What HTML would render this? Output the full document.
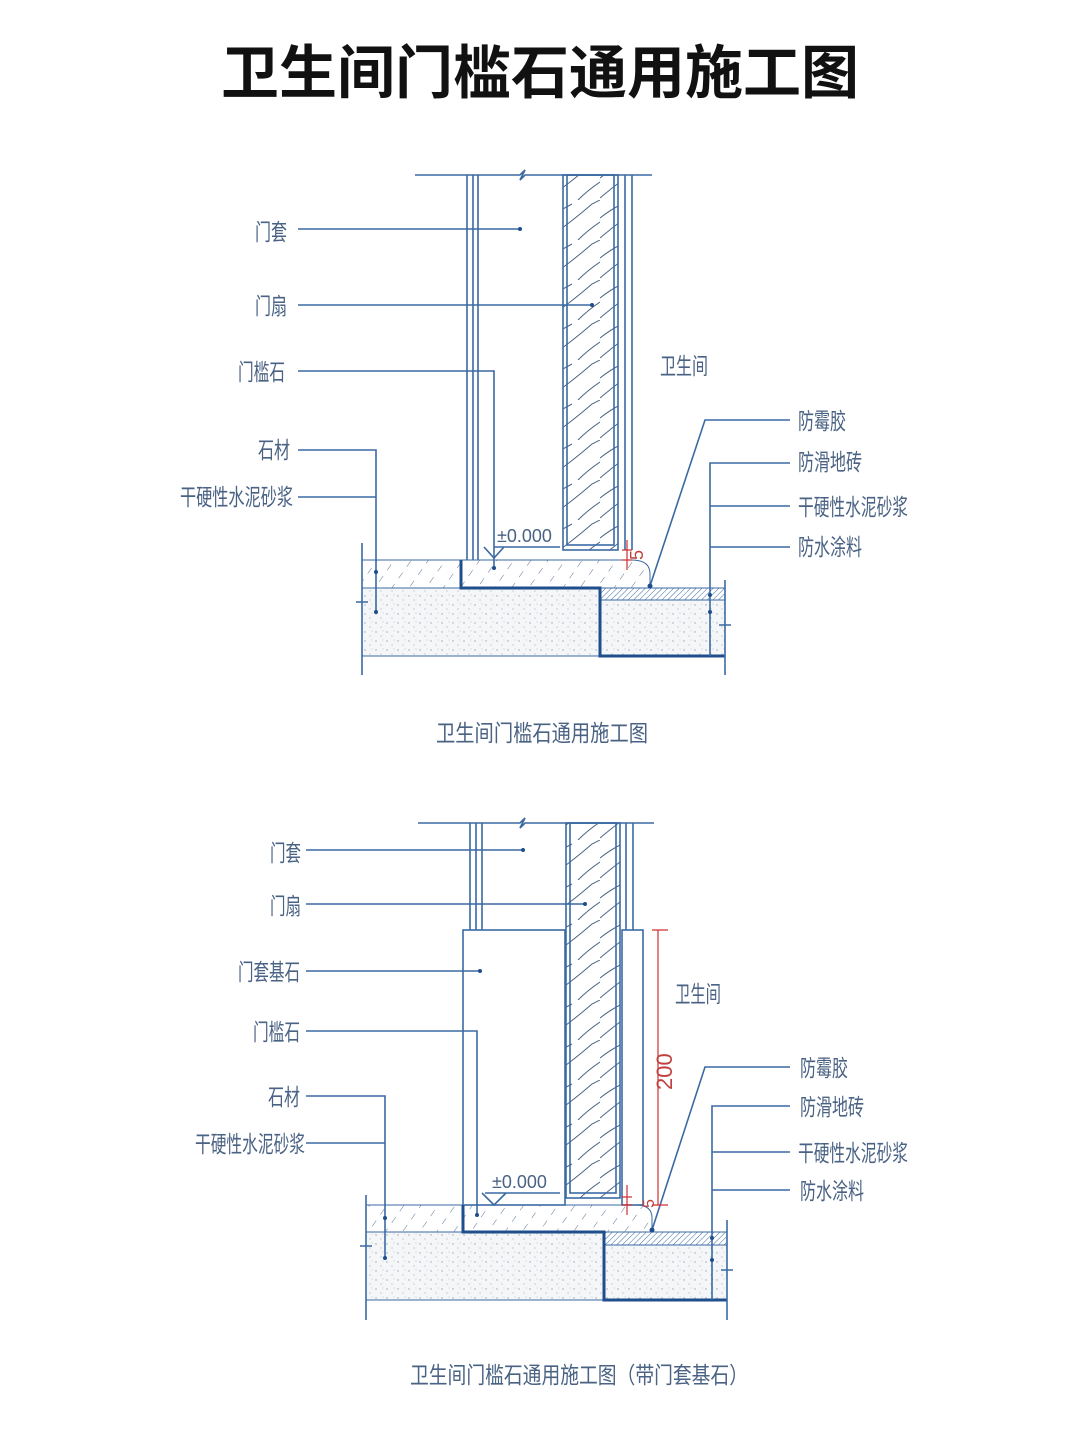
<!DOCTYPE html>
<html><head><meta charset="utf-8"><style>
html,body{margin:0;padding:0;background:#fff;}
svg{display:block}
text{font-family:"Liberation Sans","Noto Sans CJK SC",sans-serif;}
.l{fill:#4a6283;font-size:23px}
.b{stroke:#3a6aa3;stroke-width:1.6;fill:none}
.k{stroke:#1f4e8c;stroke-width:3;fill:none}
.r{stroke:#d03030;stroke-width:1.2;fill:none}
</style></head><body>
<svg width="1068" height="1440" viewBox="0 0 1068 1440" xmlns="http://www.w3.org/2000/svg">
<defs>
<pattern id="h" width="14" height="14" patternUnits="userSpaceOnUse" patternTransform="rotate(35)"><line x1="0" y1="0" x2="0" y2="7" stroke="#5a7598" stroke-width="1"/></pattern>
<pattern id="t" width="4" height="4" patternUnits="userSpaceOnUse" patternTransform="rotate(45)"><line x1="0" y1="0" x2="0" y2="4" stroke="#3a6aa3" stroke-width="1"/></pattern>
<pattern id="c" width="11" height="9" patternUnits="userSpaceOnUse"><rect width="11" height="9" fill="#f4f6f8"/><circle cx="2" cy="2" r="0.7" fill="#9aa6b4"/><circle cx="7" cy="6" r="0.6" fill="#aab4c0"/><circle cx="9" cy="1" r="0.5" fill="#b0bac6"/></pattern>
<pattern id="w" width="50" height="40" patternUnits="userSpaceOnUse"><path d="M0 38 Q12 28 20 22 T42 4 L50 0 M0 18 Q10 10 22 4 M28 40 Q38 30 50 22" stroke="#4a6283" stroke-width="1" fill="none"/></pattern>
</defs>
<text x="540" y="93" text-anchor="middle" font-size="58" font-weight="bold" fill="#111">卫生间门槛石通用施工图</text>

<!-- Diagram 1 -->
<g>
<path class="b" d="M415 175H520l5-5 -5 10 5-5H652"/>
<path class="b" d="M467 175V560M473 175V560M478 175V560M625 175V550M632 175V550"/>
<rect x="563" y="175" width="55" height="375" fill="url(#w)" stroke="#3a6aa3" stroke-width="1.6"/>
<rect x="567" y="175" width="47" height="370" class="b"/>
<rect x="362" y="560" width="99" height="28" fill="url(#h)" stroke="#3a6aa3"/>
<path d="M461 560H632q18 0 18 14v14H461Z" fill="url(#h)" stroke="#3a6aa3"/>
<rect x="362" y="588" width="238" height="68" fill="url(#c)" stroke="#3a6aa3"/>
<rect x="600" y="600" width="125" height="56" fill="url(#c)" stroke="#3a6aa3"/>
<rect x="600" y="588" width="125" height="12" fill="url(#t)" stroke="#3a6aa3"/>
<path class="k" d="M461 560V588H600V656H725"/>
<path class="b" d="M362 543V675M725 580V675M356 602H368M719 625H731"/>
<path class="b" d="M298 229H520M298 305H592M298 371H494V568M298 450H376V612M298 497H376"/>
<path class="b" d="M790 420H705L650 586M790 463H710V656M790 506H710M790 547H710"/>
<g fill="#1f4e8c"><circle cx="520" cy="229" r="2"/><circle cx="592" cy="305" r="2"/><circle cx="494" cy="568" r="2"/><circle cx="376" cy="572" r="2"/><circle cx="376" cy="612" r="2"/><circle cx="650" cy="586" r="2.5"/><circle cx="710" cy="595" r="2"/><circle cx="710" cy="612" r="2"/></g>
<path class="b" d="M494 547H560M484 547L494 558L504 547"/>
<text x="497" y="542" font-size="18" fill="#4a6283">±0.000</text>
<path class="r" d="M627 540V570M622 550H632M622 560H632"/>
<text x="0" y="0" font-size="18" fill="#c04040" transform="translate(643,560) rotate(-90)">5</text>
<text class="l" x="255" y="240" textLength="32" lengthAdjust="spacingAndGlyphs">门套</text>
<text class="l" x="255" y="314" textLength="32" lengthAdjust="spacingAndGlyphs">门扇</text>
<text class="l" x="238" y="380" textLength="47" lengthAdjust="spacingAndGlyphs">门槛石</text>
<text class="l" x="258" y="458" textLength="32" lengthAdjust="spacingAndGlyphs">石材</text>
<text class="l" x="180" y="505" textLength="113" lengthAdjust="spacingAndGlyphs">干硬性水泥砂浆</text>
<text class="l" x="660" y="374" textLength="48" lengthAdjust="spacingAndGlyphs">卫生间</text>
<text class="l" x="798" y="429" textLength="48" lengthAdjust="spacingAndGlyphs">防霉胶</text>
<text class="l" x="798" y="470" textLength="64" lengthAdjust="spacingAndGlyphs">防滑地砖</text>
<text class="l" x="798" y="515" textLength="110" lengthAdjust="spacingAndGlyphs">干硬性水泥砂浆</text>
<text class="l" x="798" y="555" textLength="64" lengthAdjust="spacingAndGlyphs">防水涂料</text>
<text class="l" x="436" y="741" font-size="27" textLength="212" lengthAdjust="spacingAndGlyphs">卫生间门槛石通用施工图</text>
</g>

<!-- Diagram 2 -->
<g>
<path class="b" d="M418 823H520l5-5 -5 10 5-5H654"/>
<path class="b" d="M470 823V930M476 823V930M482 823V930M626 823V930M633 823V930"/>
<rect x="463" y="930" width="102" height="275" class="b"/>
<rect x="622" y="930" width="21" height="275" class="b"/>
<rect x="566" y="823" width="54" height="375" fill="url(#w)" stroke="#3a6aa3" stroke-width="1.6"/>
<rect x="570" y="823" width="46" height="370" class="b"/>
<rect x="366" y="1205" width="97" height="27" fill="url(#h)" stroke="#3a6aa3"/>
<path d="M463 1205H636q16 0 16 13v14H463Z" fill="url(#h)" stroke="#3a6aa3"/>
<rect x="366" y="1232" width="238" height="68" fill="url(#c)" stroke="#3a6aa3"/>
<rect x="604" y="1245" width="123" height="55" fill="url(#c)" stroke="#3a6aa3"/>
<rect x="604" y="1232" width="123" height="13" fill="url(#t)" stroke="#3a6aa3"/>
<path class="k" d="M463 1205V1232H604V1300H727"/>
<path class="b" d="M366 1195V1320M727 1220V1320M360 1246H372M721 1270H733"/>
<path class="b" d="M306 850H523M306 904H585M306 971H480M306 1031H477V1215M306 1096H385V1258M306 1143H385"/>
<path class="b" d="M790 1067H705L652 1230M790 1106H712V1300M790 1152H712M790 1190H712"/>
<g fill="#1f4e8c"><circle cx="523" cy="850" r="2"/><circle cx="585" cy="904" r="2"/><circle cx="480" cy="971" r="2"/><circle cx="477" cy="1215" r="2"/><circle cx="385" cy="1218" r="2"/><circle cx="385" cy="1258" r="2"/><circle cx="652" cy="1230" r="2.5"/><circle cx="712" cy="1238" r="2"/><circle cx="712" cy="1260" r="2"/></g>
<path class="b" d="M485 1193H560M482 1193L494 1205L506 1193"/>
<text x="492" y="1188" font-size="18" fill="#4a6283">±0.000</text>
<path class="r" d="M658 930V1205M652 930H668M652 1205H668M627 1185V1215M622 1197H632M622 1205H632"/>
<text x="0" y="0" font-size="22" fill="#c04040" transform="translate(672,1090) rotate(-90)">200</text>
<text x="0" y="0" font-size="16" fill="#c04040" transform="translate(654,1208) rotate(-90)">5</text>
<text class="l" x="270" y="861" textLength="31" lengthAdjust="spacingAndGlyphs">门套</text>
<text class="l" x="270" y="914" textLength="31" lengthAdjust="spacingAndGlyphs">门扇</text>
<text class="l" x="238" y="980" textLength="62" lengthAdjust="spacingAndGlyphs">门套基石</text>
<text class="l" x="253" y="1040" textLength="47" lengthAdjust="spacingAndGlyphs">门槛石</text>
<text class="l" x="268" y="1105" textLength="32" lengthAdjust="spacingAndGlyphs">石材</text>
<text class="l" x="195" y="1152" textLength="110" lengthAdjust="spacingAndGlyphs">干硬性水泥砂浆</text>
<text class="l" x="675" y="1002" textLength="46" lengthAdjust="spacingAndGlyphs">卫生间</text>
<text class="l" x="800" y="1076" textLength="48" lengthAdjust="spacingAndGlyphs">防霉胶</text>
<text class="l" x="800" y="1115" textLength="64" lengthAdjust="spacingAndGlyphs">防滑地砖</text>
<text class="l" x="798" y="1161" textLength="110" lengthAdjust="spacingAndGlyphs">干硬性水泥砂浆</text>
<text class="l" x="800" y="1199" textLength="64" lengthAdjust="spacingAndGlyphs">防水涂料</text>
<text class="l" x="410" y="1383" font-size="27" textLength="338" lengthAdjust="spacingAndGlyphs">卫生间门槛石通用施工图（带门套基石）</text>
</g>
</svg>
</body></html>
